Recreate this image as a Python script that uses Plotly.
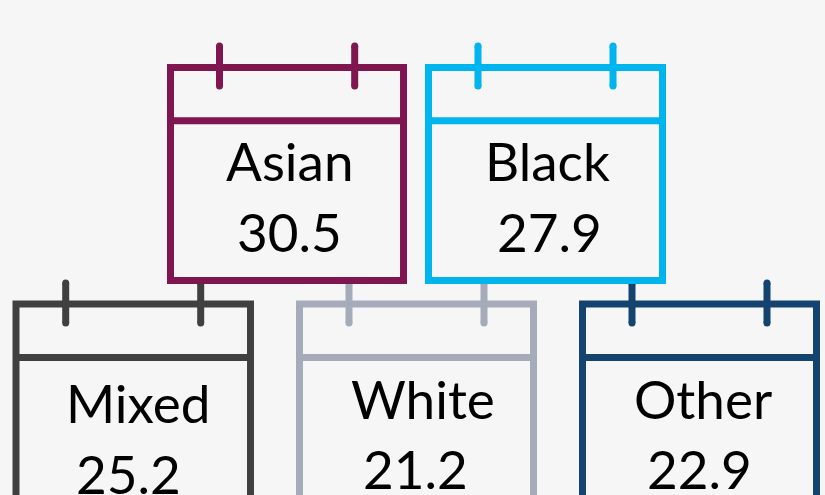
import plotly.graph_objects as go

# Group labels and their values
categories = ["Asian", "Black", "Mixed", "White", "Other"]
values = [30.5, 27.9, 25.2, 21.2, 22.9]
colors = ["#7F1650", "#00B4EE", "#404040", "#A5ABB9", "#15436F"]

# Calendar outlines in layout units: left, right, top, bottom, divider line
box_left = [170.5, 428.5, 16, 299.5, 582.5]
box_right = [403.5, 662.5, 250.5, 533.5, 816.5]
box_top = [67.5, 67.5, 304, 304, 304]
box_bottom = [280.5, 280.5, 530, 530, 530]
box_divider = [120.7, 120.7, 357.5, 357.5, 357.5]

# Binding pegs at the top of each calendar
peg_a = [219.5, 478, 65.7, 349, 632]
peg_b = [354.7, 613, 200.7, 484, 767]
peg_top = [46, 46, 283, 283, 283]
peg_bottom = [86, 86, 323, 323, 323]

# Text placement
name_x = [289, 547, 138, 423, 703]
value_x = [289.5, 549, 128.5, 415, 699]
name_y = [160, 160, 402, 398, 398]
value_y = [231, 231, 473, 468, 468]

STROKE = 7
FONT = dict(family="Lato, Carlito, sans-serif", size=53, color="#000000")

fig = go.Figure()

for i, name in enumerate(categories):
    c = colors[i]
    fig.add_shape(type="rect", x0=box_left[i], x1=box_right[i], y0=box_top[i], y1=box_bottom[i],
                  line=dict(color=c, width=STROKE), fillcolor="rgba(0,0,0,0)", layer="above")
    fig.add_shape(type="line", x0=box_left[i], x1=box_right[i], y0=box_divider[i], y1=box_divider[i],
                  line=dict(color=c, width=STROKE), layer="above")

for i, name in enumerate(categories):
    for px in (peg_a[i], peg_b[i]):
        fig.add_trace(go.Scatter(
            x=[px, px], y=[peg_top[i], peg_bottom[i]], mode="lines+markers",
            line=dict(color=colors[i], width=STROKE),
            marker=dict(color=colors[i], size=STROKE, line=dict(width=0)),
            showlegend=False, hoverinfo="skip", cliponaxis=False,
        ))
    fig.add_annotation(x=name_x[i], y=name_y[i], text=name, showarrow=False, font=FONT,
                       xanchor="center", yanchor="middle")
    fig.add_annotation(x=value_x[i], y=value_y[i], text=f"{values[i]:.1f}", showarrow=False, font=FONT,
                       xanchor="center", yanchor="middle")

fig.update_layout(
    width=825, height=495,
    margin=dict(l=0, r=0, t=0, b=0),
    paper_bgcolor="#F6F6F6", plot_bgcolor="#F6F6F6",
    xaxis=dict(range=[0, 825], visible=False, fixedrange=True),
    yaxis=dict(range=[495, 0], visible=False, fixedrange=True),
)

fig.write_html("out.html", config=dict(displayModeBar=False))
